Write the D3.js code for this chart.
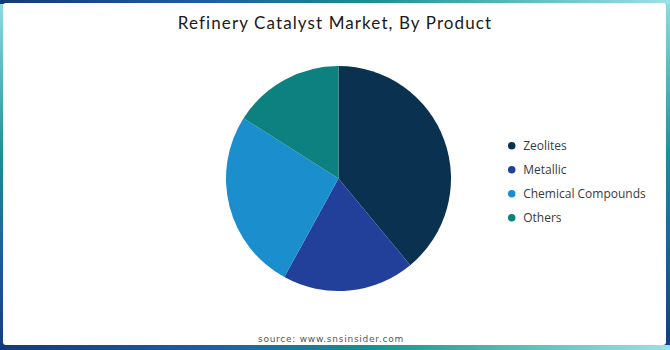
<!DOCTYPE html>
<html>
<head>
<meta charset="utf-8">
<script src="https://cdn.jsdelivr.net/npm/d3@7"></script>
<style>
  body { margin: 0; background: #fff; }
  svg { display: block; }
</style>
</head>
<body>
<div id="chart"></div>
<script>
// data
const products = ["Zeolites", "Metallic", "Chemical Compounds", "Others"];
const shares = [39, 19, 26, 16];
const colors = ["#0b3151", "#22409a", "#1b8fce", "#0d817f"];

const width = 670, height = 350;

const svg = d3.select("#chart").append("svg")
    .attr("width", width)
    .attr("height", height);

const defs = svg.append("defs");

// frame gradients
const hGrad = defs.append("linearGradient").attr("id", "hGrad")
    .attr("x1", 0).attr("y1", 0).attr("x2", 1).attr("y2", 0);
hGrad.selectAll("stop")
  .data([
    {offset: "0%", color: "#143a78"},
    {offset: "30%", color: "#1d5ca6"},
    {offset: "55%", color: "#17918f"},
    {offset: "80%", color: "#5fc2bf"},
    {offset: "100%", color: "#9fe0e8"}
  ])
  .enter().append("stop")
    .attr("offset", d => d.offset)
    .attr("stop-color", d => d.color);

const vGrad = defs.append("linearGradient").attr("id", "vGrad")
    .attr("x1", 0).attr("y1", 0).attr("x2", 0).attr("y2", 1);
vGrad.selectAll("stop")
  .data([
    {offset: "0%", color: "#8fdde2"},
    {offset: "45%", color: "#1b8f92"},
    {offset: "75%", color: "#1c5a9e"},
    {offset: "100%", color: "#163d7c"}
  ])
  .enter().append("stop")
    .attr("offset", d => d.offset)
    .attr("stop-color", d => d.color);

svg.append("rect")
    .attr("width", width).attr("height", height)
    .attr("fill", "url(#vGrad)");
svg.append("rect")
    .attr("width", width).attr("height", 4)
    .attr("fill", "url(#hGrad)");
svg.append("rect")
    .attr("y", height - 5)
    .attr("width", width).attr("height", 5)
    .attr("fill", "url(#hGrad)");

// white panel
svg.append("rect")
    .attr("x", 3).attr("y", 3)
    .attr("width", 663).attr("height", 342)
    .attr("rx", 3)
    .attr("fill", "#ffffff");

// title
svg.append("text")
    .attr("x", 335)
    .attr("y", 29)
    .attr("text-anchor", "middle")
    .style("font-family", "Lato, sans-serif")
    .style("font-size", "17px")
    .style("letter-spacing", "1.1px")
    .style("fill", "#1a1a1a")
    .text("Refinery Catalyst Market, By Product");

// pie
const cx = 338.5, cy = 178.5, radius = 112.5;

const pie = d3.pie().sort(null).value(d => d);
const arc = d3.arc().innerRadius(0).outerRadius(radius);

const color = d3.scaleOrdinal().domain(products).range(colors);

const g = svg.append("g")
    .attr("transform", `translate(${cx},${cy})`);

g.selectAll("path.slice")
  .data(pie(shares))
  .enter().append("path")
    .attr("class", "slice")
    .attr("d", arc)
    .attr("fill", (d, i) => color(products[i]));

// legend
const legendY = d3.scalePoint()
    .domain(products)
    .range([145.7, 217.7]);

const legend = svg.append("g").attr("class", "legend");

const items = legend.selectAll("g")
  .data(products)
  .enter().append("g")
    .attr("transform", d => `translate(511.7,${legendY(d)})`);

items.append("circle")
    .attr("r", 3.8)
    .attr("fill", d => color(d));

items.append("text")
    .attr("x", 11.5)
    .attr("dy", "0.35em")
    .style("font-family", "'Open Sans', sans-serif")
    .style("font-size", "12px")
    .style("fill", "#3a3a3a")
    .text(d => d);

// source
svg.append("text")
    .attr("x", 331)
    .attr("y", 342)
    .attr("text-anchor", "middle")
    .style("font-family", "'DejaVu Sans', sans-serif")
    .style("font-size", "9px")
    .style("letter-spacing", "0.75px")
    .style("fill", "#555")
    .text("source: www.snsinsider.com");
</script>
</body>
</html>
